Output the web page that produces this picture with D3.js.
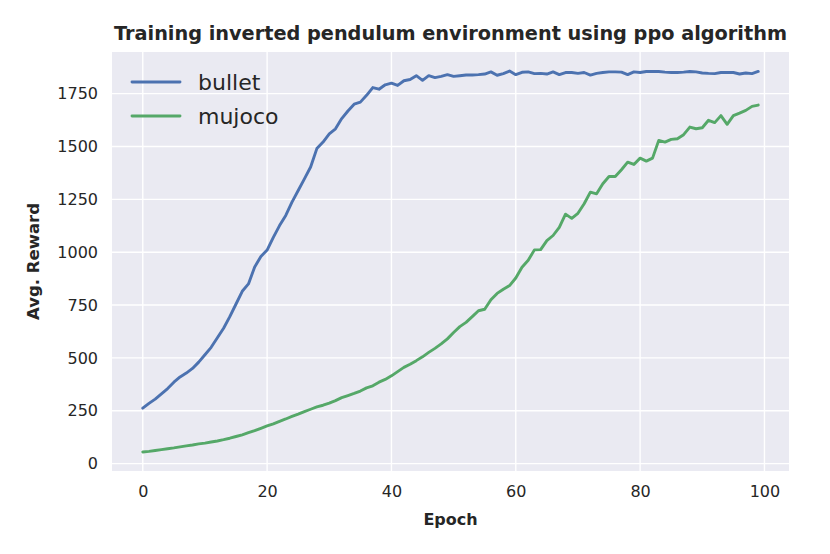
<!DOCTYPE html>
<html>
<head>
<meta charset="utf-8">
<script src="https://cdn.jsdelivr.net/npm/d3@7"></script>
<style>
  body { margin: 0; background: #fff; }
  text { font-family: "DejaVu Sans", sans-serif; fill: #262626; }
</style>
</head>
<body>
<svg id="chart" width="830" height="554"></svg>
<script>
// epochs 0..99
var epochs = d3.range(100);

var bullet = [262, 285, 305, 330, 355, 385, 410, 428, 450, 480,
  515, 550, 595, 640, 695, 755, 815, 850, 930, 980,
  1010, 1070, 1126, 1174, 1237, 1292, 1347, 1403, 1490, 1521,
  1560, 1584, 1632, 1668, 1700, 1710, 1742, 1779, 1771, 1792,
  1800, 1789, 1811, 1817, 1835, 1813, 1835, 1826, 1832, 1840,
  1832, 1835, 1838, 1838, 1840, 1843, 1853, 1837, 1845, 1857,
  1840, 1851, 1853, 1845, 1846, 1843, 1853, 1840, 1850, 1850,
  1846, 1850, 1838, 1846, 1850, 1853, 1853, 1852, 1840, 1853,
  1850, 1855, 1855, 1855, 1852, 1850, 1850, 1852, 1855, 1853,
  1848, 1846, 1845, 1850, 1850, 1850, 1843, 1848, 1845, 1855];

var mujoco = [55, 58, 62, 66, 70, 74, 79, 84, 88, 93,
  97, 102, 107, 113, 120, 128, 136, 146, 156, 167,
  178, 188, 200, 211, 223, 234, 246, 257, 268, 276,
  286, 298, 312, 322, 332, 343, 358, 368, 385, 398,
  415, 435, 455, 470, 487, 505, 526, 545, 566, 590,
  620, 648, 668, 695, 723, 730, 775, 805, 825, 842,
  878, 929, 962, 1011, 1012, 1055, 1079, 1118, 1180, 1160,
  1184, 1229, 1284, 1276, 1324, 1358, 1358, 1390, 1426, 1415,
  1445, 1431, 1445, 1529, 1521, 1534, 1537, 1556, 1592, 1584,
  1589, 1624, 1613, 1646, 1605, 1646, 1658, 1671, 1690, 1696];

var seriesNames = ["bullet", "mujoco"];
var seriesColors = ["#4c72b0", "#55a868"];
var xTicks = [0, 20, 40, 60, 80, 100];
var yTicks = [0, 250, 500, 750, 1000, 1250, 1500, 1750];

var svg = d3.select("#chart"),
    margin = {top: 52, right: 41, bottom: 83, left: 112},
    width = 830 - margin.left - margin.right,
    height = 554 - margin.top - margin.bottom,
    g = svg.append("g").attr("transform", "translate(" + margin.left + "," + margin.top + ")");

// matplotlib style 5% margins
var allY = bullet.concat(mujoco),
    ymin = d3.min(allY), ymax = d3.max(allY),
    ypad = (ymax - ymin) * 0.05;

var x = d3.scaleLinear().domain([-4.95, 103.95]).range([0, width]);
var y = d3.scaleLinear().domain([ymin - ypad, ymax + ypad]).range([height, 0]);

g.append("rect")
    .attr("width", width)
    .attr("height", height)
    .attr("fill", "#eaeaf2");

// grid
g.append("g")
  .selectAll("line")
  .data(xTicks)
  .enter().append("line")
    .attr("x1", function(d) { return x(d); })
    .attr("x2", function(d) { return x(d); })
    .attr("y1", 0)
    .attr("y2", height)
    .attr("stroke", "#fff")
    .attr("stroke-width", 1.4);

g.append("g")
  .selectAll("line")
  .data(yTicks)
  .enter().append("line")
    .attr("x1", 0)
    .attr("x2", width)
    .attr("y1", function(d) { return y(d); })
    .attr("y2", function(d) { return y(d); })
    .attr("stroke", "#fff")
    .attr("stroke-width", 1.4);

// axes, no tick marks
var xAxis = g.append("g")
    .attr("transform", "translate(0," + height + ")")
    .call(d3.axisBottom(x).tickValues(xTicks).tickSize(0).tickPadding(15).tickFormat(d3.format("d")));
var yAxis = g.append("g")
    .call(d3.axisLeft(y).tickValues(yTicks).tickSize(0).tickPadding(14).tickFormat(d3.format("d")));

[xAxis, yAxis].forEach(function(a) {
  a.select(".domain").remove();
  a.selectAll("text")
    .attr("font-family", "DejaVu Sans")
    .attr("font-size", 16)
    .attr("fill", "#262626");
});

// lines
var line = d3.line()
    .x(function(d, i) { return x(epochs[i]); })
    .y(function(d) { return y(d); });

[bullet, mujoco].forEach(function(s, i) {
  g.append("path")
    .datum(s)
    .attr("fill", "none")
    .attr("stroke", seriesColors[i])
    .attr("stroke-width", 2.9)
    .attr("stroke-linejoin", "round")
    .attr("stroke-linecap", "round")
    .attr("d", line);
});

// legend
var legend = g.append("g").attr("transform", "translate(20,30)");
seriesNames.forEach(function(name, i) {
  var row = legend.append("g").attr("transform", "translate(0," + (i * 34) + ")");
  row.append("line")
    .attr("x1", 0).attr("x2", 48)
    .attr("stroke", seriesColors[i])
    .attr("stroke-width", 2.9)
    .attr("stroke-linecap", "round");
  row.append("text")
    .attr("x", 66)
    .attr("y", 8)
    .attr("font-size", 22)
    .text(name);
});

// title and axis labels
svg.append("text")
    .attr("x", margin.left + width / 2)
    .attr("y", 40)
    .attr("text-anchor", "middle")
    .attr("font-size", 19.3)
    .attr("font-weight", "bold")
    .text("Training inverted pendulum environment using ppo algorithm");

svg.append("text")
    .attr("x", margin.left + width / 2)
    .attr("y", 525)
    .attr("text-anchor", "middle")
    .attr("font-size", 16)
    .attr("font-weight", "bold")
    .text("Epoch");

svg.append("text")
    .attr("transform", "translate(39," + (margin.top + height / 2) + ") rotate(-90)")
    .attr("text-anchor", "middle")
    .attr("font-size", 16.5)
    .attr("font-weight", "bold")
    .text("Avg. Reward");
</script>
</body>
</html>
